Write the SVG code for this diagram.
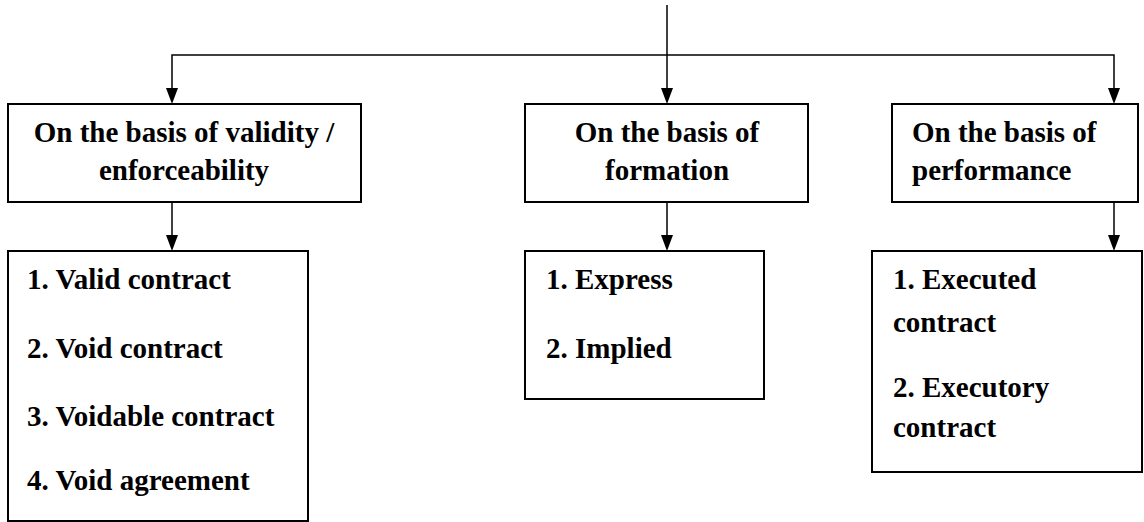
<svg xmlns="http://www.w3.org/2000/svg" width="1144" height="522" viewBox="0 0 1144 522">
<rect width="1144" height="522" fill="#fff"/>
<g id="connectors" stroke="#000" stroke-width="1.5" fill="none">
<line x1="667" y1="5" x2="667" y2="90"/>
<polyline points="172,90 172,55 1114,55 1114,90"/>
<line x1="172" y1="202" x2="172" y2="237"/>
<line x1="667" y1="202" x2="667" y2="237"/>
<line x1="1114" y1="202" x2="1114" y2="237"/>
<path d="M166,88 L178,88 L172,104 Z" fill="#000" stroke="none"/>
<path d="M661,88 L673,88 L667,104 Z" fill="#000" stroke="none"/>
<path d="M1108,88 L1120,88 L1114,104 Z" fill="#000" stroke="none"/>
<path d="M166,235 L178,235 L172,251 Z" fill="#000" stroke="none"/>
<path d="M661,235 L673,235 L667,251 Z" fill="#000" stroke="none"/>
<path d="M1108,235 L1120,235 L1114,251 Z" fill="#000" stroke="none"/>
</g>
<g id="validity">
<rect x="8" y="104" width="353" height="98" fill="#fff" stroke="#000" stroke-width="2"/>
<text x="184" y="142" text-anchor="middle" font-family="Liberation Serif" font-weight="bold" font-size="29">On the basis of validity /</text>
<text x="184" y="180" text-anchor="middle" font-family="Liberation Serif" font-weight="bold" font-size="29">enforceability</text>
</g>
<g id="formation">
<rect x="525" y="104" width="283" height="98" fill="#fff" stroke="#000" stroke-width="2"/>
<text x="667" y="142" text-anchor="middle" font-family="Liberation Serif" font-weight="bold" font-size="29">On the basis of</text>
<text x="667" y="180" text-anchor="middle" font-family="Liberation Serif" font-weight="bold" font-size="29">formation</text>
</g>
<g id="performance">
<rect x="892" y="104" width="246" height="98" fill="#fff" stroke="#000" stroke-width="2"/>
<text x="912" y="142" font-family="Liberation Serif" font-weight="bold" font-size="29">On the basis of</text>
<text x="912" y="180" font-family="Liberation Serif" font-weight="bold" font-size="29">performance</text>
</g>
<g id="validity-list">
<rect x="8" y="251" width="300" height="270" fill="#fff" stroke="#000" stroke-width="2"/>
<text x="27" y="289" font-family="Liberation Serif" font-weight="bold" font-size="29">1. Valid contract</text>
<text x="27" y="358" font-family="Liberation Serif" font-weight="bold" font-size="29">2. Void contract</text>
<text x="27" y="426" font-family="Liberation Serif" font-weight="bold" font-size="29">3. Voidable contract</text>
<text x="27" y="490" font-family="Liberation Serif" font-weight="bold" font-size="29">4. Void agreement</text>
</g>
<g id="formation-list">
<rect x="525" y="251" width="239" height="148" fill="#fff" stroke="#000" stroke-width="2"/>
<text x="546" y="289" font-family="Liberation Serif" font-weight="bold" font-size="29">1. Express</text>
<text x="546" y="358" font-family="Liberation Serif" font-weight="bold" font-size="29">2. Implied</text>
</g>
<g id="performance-list">
<rect x="872" y="251" width="270" height="221" fill="#fff" stroke="#000" stroke-width="2"/>
<text x="893" y="289" font-family="Liberation Serif" font-weight="bold" font-size="29">1. Executed</text>
<text x="893" y="332" font-family="Liberation Serif" font-weight="bold" font-size="29">contract</text>
<text x="893" y="397" font-family="Liberation Serif" font-weight="bold" font-size="29">2. Executory</text>
<text x="893" y="437" font-family="Liberation Serif" font-weight="bold" font-size="29">contract</text>
</g>
</svg>
